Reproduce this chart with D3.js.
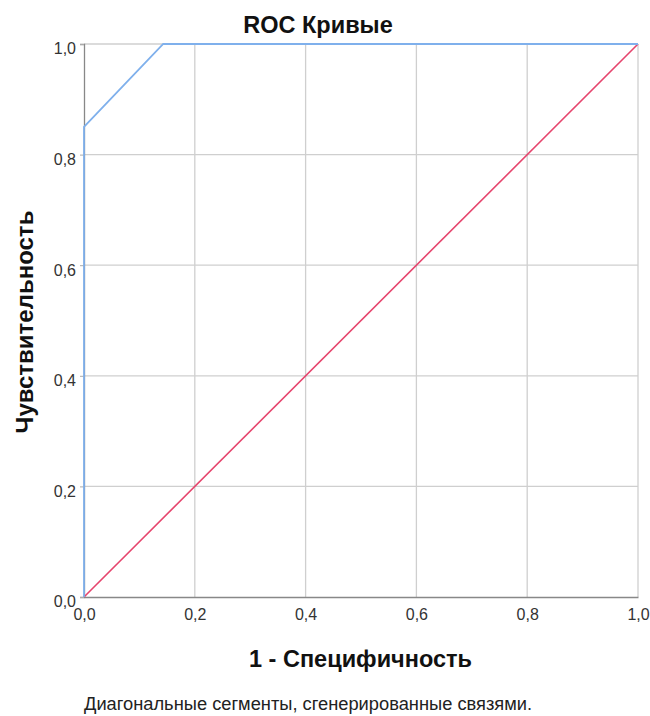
<!DOCTYPE html>
<html>
<head>
<meta charset="utf-8">
<script src="https://cdn.jsdelivr.net/npm/d3@7"></script>
<style>
  body { margin: 0; background: #fff; font-family: "Liberation Sans", Arial, sans-serif; }
  .tick text { fill: #333; font-size: 16px; }
</style>
</head>
<body>
<div id="chart"></div>
<script>
//Datos
const ticks = [0, 0.2, 0.4, 0.6, 0.8, 1.0];
const rocX = [0, 0, 0.143, 1];
const rocY = [0, 0.85, 1, 1];
const refX = [0, 1];
const refY = [0, 1];

const COLOR_ROC = '#7FB0EC',
COLOR_REF = '#E6456D';

let margin = {top: 44, right: 12, bottom: 119, left: 84},
    W = 650, H = 716,
    width = W - margin.left - margin.right,
    height = H - margin.top - margin.bottom;

let svg = d3.select('#chart').append('svg')
    .attr('width', W).attr('height', H);

let g = svg.append('g')
    .attr('transform', 'translate(' + margin.left + ',' + margin.top + ')');

let x = d3.scaleLinear().domain([0, 1]).range([0, width]);
let y = d3.scaleLinear().domain([0, 1]).range([height, 0]);
let fmt = function(d) { return d3.format('.1f')(d).replace('.', ','); };

//Rejilla
g.append('g').selectAll('line').data(ticks.slice(1)).enter().append('line')
    .attr('x1', d => x(d)).attr('x2', d => x(d))
    .attr('y1', 0).attr('y2', height)
    .attr('stroke', '#cfcfcf').attr('stroke-width', 1.3);
g.append('g').selectAll('line').data(ticks.slice(1)).enter().append('line')
    .attr('x1', 0).attr('x2', width)
    .attr('y1', d => y(d)).attr('y2', d => y(d))
    .attr('stroke', '#cfcfcf').attr('stroke-width', 1.3);

//Ejes
g.append('g')
    .attr('transform', 'translate(0,' + height + ')')
    .call(d3.axisBottom(x).tickValues(ticks).tickFormat(fmt).tickSize(0).tickPadding(12))
    .call(function(a) {
        a.select('.domain').attr('stroke', '#888').attr('stroke-width', 1.3);
        a.selectAll('text').style('font-family', '"Liberation Sans", Arial, sans-serif');
    });
g.append('g')
    .call(d3.axisLeft(y).tickValues(ticks).tickFormat(fmt).tickSize(4).tickPadding(4))
    .call(function(a) {
        a.select('.domain').attr('stroke', '#888').attr('stroke-width', 1.3);
        a.selectAll('.tick line').attr('stroke', '#aaa');
        a.selectAll('.tick text').attr('dy', '0.62em');
        a.selectAll('text').style('font-family', '"Liberation Sans", Arial, sans-serif');
    });

//Lineas
let line = d3.line().x(d => x(d[0])).y(d => y(d[1]));
g.append('path')
    .datum(refX.map((v, i) => [v, refY[i]]))
    .attr('d', line).attr('fill', 'none')
    .attr('stroke', COLOR_REF).attr('stroke-width', 1.6);
g.append('path')
    .datum(rocX.map((v, i) => [v, rocY[i]]))
    .attr('d', line).attr('fill', 'none')
    .attr('stroke', COLOR_ROC).attr('stroke-width', 1.8);

//Textos
svg.append('text')
    .attr('x', 318).attr('y', 33)
    .attr('text-anchor', 'middle')
    .style('font-size', '23.5px').style('font-weight', 'bold').attr('fill', '#111')
    .text('ROC Кривые');

svg.append('text')
    .attr('transform', 'translate(33,' + 322 + ') rotate(-90)')
    .attr('text-anchor', 'middle')
    .style('font-size', '24px').style('font-weight', 'bold').attr('fill', '#111')
    .text('Чувствительность');

svg.append('text')
    .attr('x', 249).attr('y', 667)
    .style('font-size', '23.5px').style('font-weight', 'bold').attr('fill', '#111')
    .text('1 - Специфичность');

svg.append('text')
    .attr('x', 84).attr('y', 710)
    .style('font-size', '18.3px').attr('fill', '#222')
    .text('Диагональные сегменты, сгенерированные связями.');
</script>
</body>
</html>
